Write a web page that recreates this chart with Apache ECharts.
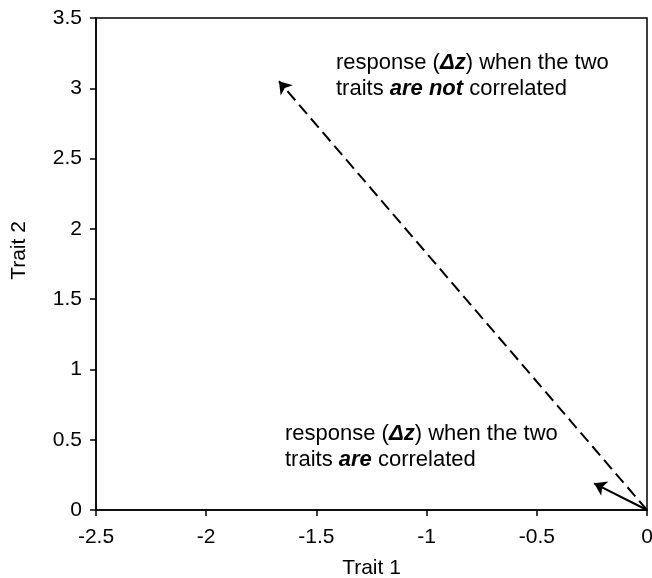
<!DOCTYPE html>
<html>
<head>
<meta charset="utf-8">
<script src="https://cdn.jsdelivr.net/npm/echarts@6/dist/echarts.min.js"></script>
<style>
  html, body { margin: 0; padding: 0; background: #fff; }
  #chart { width: 652px; height: 578px; }
</style>
</head>
<body>
<div id="chart"></div>
<script>
/* global echarts */

const X_TICKS = [-2.5, -2, -1.5, -1, -0.5, 0];
const Y_TICKS = [0, 0.5, 1, 1.5, 2, 2.5, 3, 3.5];
const ORIGIN = [0, 0];
const RESPONSE_UNCORRELATED = [-1.67, 3.05];
const RESPONSE_CORRELATED = [-0.24, 0.19];

const FONT = "'Liberation Sans', Arial, sans-serif";

const chart = echarts.init(document.getElementById("chart"), null, { renderer: "canvas" });

const richStyles = {
  n: { fontFamily: FONT, fontSize: 22, color: "#000" },
  b: { fontFamily: FONT, fontSize: 22, color: "#000", fontWeight: "bold", fontStyle: "italic" },
};

function axisLabelFmt(value) {
  return String(value);
}

chart.setOption({
  animation: false,
  textStyle: { fontFamily: FONT },
  grid: {
    left: 96,
    right: 5,
    top: 18,
    bottom: 68,
    outerBoundsMode: "none",
    containLabel: false,
    show: true,
    borderColor: "#000",
    borderWidth: 1.5,
  },
  xAxis: {
    type: "value",
    min: X_TICKS[0],
    max: X_TICKS[X_TICKS.length - 1],
    interval: 0.5,
    name: "Trait 1",
    nameLocation: "middle",
    nameGap: 48,
    nameTextStyle: { fontSize: 21, color: "#000", fontFamily: FONT },
    axisLine: { show: true, onZero: false, lineStyle: { color: "#000", width: 1.5 } },
    axisTick: { show: true, length: 6, lineStyle: { color: "#000", width: 1.5 } },
    axisLabel: { fontSize: 21, color: "#000", margin: 17, formatter: axisLabelFmt },
    splitLine: { show: false },
  },
  yAxis: {
    type: "value",
    min: Y_TICKS[0],
    max: Y_TICKS[Y_TICKS.length - 1],
    interval: 0.5,
    name: "Trait 2",
    nameLocation: "middle",
    nameGap: 66,
    nameTextStyle: { fontSize: 21, color: "#000", fontFamily: FONT, padding: [0, 0, 0, 27] },
    axisLine: { show: true, onZero: false, lineStyle: { color: "#000", width: 1.5 } },
    axisTick: { show: true, length: 6, lineStyle: { color: "#000", width: 1.5 } },
    axisLabel: { fontSize: 21, color: "#000", margin: 14, formatter: axisLabelFmt },
    splitLine: { show: false },
  },
  series: [
    {
      type: "lines",
      coordinateSystem: "cartesian2d",
      symbol: ["none", "arrow"],
      symbolSize: [0, 12],
      lineStyle: { color: "#000", width: 2, type: [12, 6], opacity: 1 },
      data: [{ coords: [ORIGIN, RESPONSE_UNCORRELATED] }],
      silent: true,
    },
    {
      type: "lines",
      coordinateSystem: "cartesian2d",
      symbol: ["none", "arrow"],
      symbolSize: [0, 12],
      lineStyle: { color: "#000", width: 2, type: "solid", opacity: 1 },
      data: [{ coords: [ORIGIN, RESPONSE_CORRELATED] }],
      silent: true,
    },
  ],
  graphic: [
    {
      type: "text",
      left: 336,
      top: 50,
      style: {
        text: "{n|response (}{b|Δz}{n|) when the two}\n{n|traits }{b|are not}{n| correlated}",
        rich: richStyles,
        lineHeight: 26,
      },
    },
    {
      type: "text",
      left: 285,
      top: 421,
      style: {
        text: "{n|response (}{b|Δz}{n|) when the two}\n{n|traits }{b|are}{n| correlated}",
        rich: richStyles,
        lineHeight: 26,
      },
    },
  ],
});
</script>
</body>
</html>
